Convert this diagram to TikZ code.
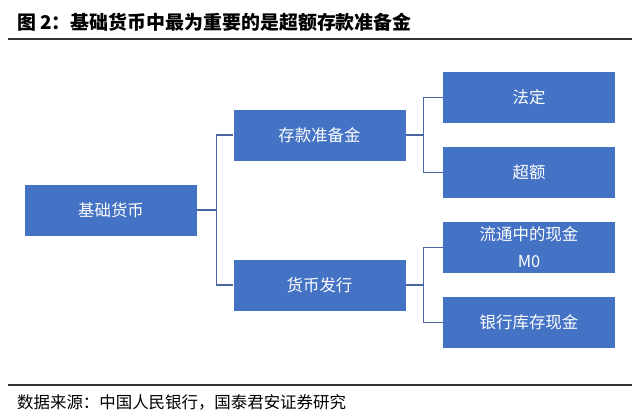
\documentclass[tikz,border=0pt]{standalone}
\usepackage{fontspec}
\newfontfamily\cjk{Noto Sans CJK SC}
\usetikzlibrary{positioning,calc}
\definecolor{boxblue}{HTML}{4472C4}
\definecolor{linkblue}{HTML}{4A67A3}

\begin{document}
\begin{tikzpicture}[
  x=1bp, y=-1bp,
  font=\cjk\fontsize{16.5}{27}\selectfont,
  box/.style={fill=boxblue, text=white, minimum width=172bp, minimum height=51bp,
    inner sep=0pt, align=center},
  conn/.style={linkblue, line width=1.3bp},
  rule/.style={black!80, line width=1.2bp},
]
  \useasboundingbox (0,0) rectangle (640,419);

  \node[anchor=west, inner sep=0pt, font=\cjk\bfseries\fontsize{19}{20}\selectfont]
    (title) at (17,22) {图 2：基础货币中最为重要的是超额存款准备金};
  \draw[rule] (8,39) -- (632,39);

  \node[box] (base) at (111,210) {基础货币};
  \node[box] (res) at (319.5,135) {存款准备金};
  \node[box] (iss) at (319.5,285) {货币发行};

  \node[box] (legal) at (529,97.5) {法定};
  \node[box] (excess) at (529,172.5) {超额};
  \node[box] (cash) at (529,247.5) {流通中的现金\\M0};
  \node[box] (vault) at (529,322.5) {银行库存现金};

  \coordinate (j0) at ($(base.east)+(19,0)$);
  \coordinate (j1) at ($(res.east)+(18,0)$);
  \coordinate (j2) at ($(iss.east)+(18,0)$);

  \draw[conn] (base.east) -- (j0);
  \draw[conn] (j0) |- (res.west);
  \draw[conn] (j0) |- (iss.west);

  \draw[conn] (res.east) -- (j1);
  \draw[conn] (j1) |- (legal.west);
  \draw[conn] (j1) |- (excess.west);

  \draw[conn] (iss.east) -- (j2);
  \draw[conn] (j2) |- (cash.west);
  \draw[conn] (j2) |- (vault.west);

  \draw[rule] (8,385) -- (632,385);
  \node[anchor=west, inner sep=0pt, font=\cjk\fontsize{16.5}{18}\selectfont]
    (source) at (17,402) {数据来源：中国人民银行，国泰君安证券研究};
\end{tikzpicture}
\end{document}
